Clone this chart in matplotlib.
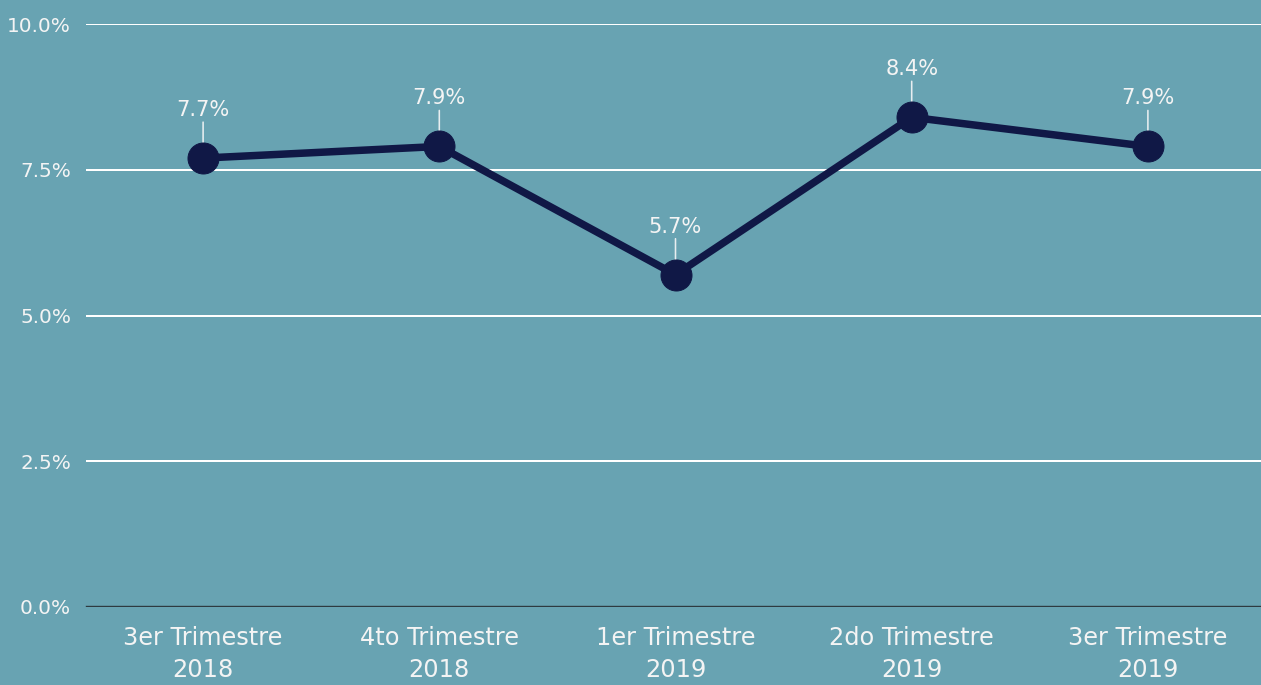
import matplotlib
matplotlib.use("Agg")
import matplotlib.pyplot as plt
from matplotlib.ticker import FuncFormatter

categories = ["3er Trimestre\n2018", "4to Trimestre\n2018", "1er Trimestre\n2019",
              "2do Trimestre\n2019", "3er Trimestre\n2019"]
values = [7.7, 7.9, 5.7, 8.4, 7.9]
y_ticks = [0.0, 2.5, 5.0, 7.5, 10.0]

BG = "#68A3B2"
LINE = "#101846"
TXT = "#F4F4F4"

DPI = 72
fig = plt.figure(figsize=(1261 / DPI, 685 / DPI), dpi=DPI, facecolor=BG)
W, H = 1261, 685
left, right = 85, 1266
top, bottom = 24, 607
ax = fig.add_axes([left / W, 1 - bottom / H, (right - left) / W, (bottom - top) / H])
ax.set_facecolor(BG)

x = list(range(len(categories)))
ax.set_xlim(-0.5, len(categories) - 0.5)
ax.set_ylim(0, 10)

for t in y_ticks[1:]:
    ax.axhline(t, color="white", lw=2, zorder=1, xmin=2 / (right - left))
ax.axhline(0, color="#2E3A40", lw=2.4, zorder=1, xmin=2 / (right - left))

ax.plot(x, values, color=LINE, lw=7.5, zorder=3, solid_capstyle="round")
ax.plot(x, values, "o", color=LINE, markersize=31, zorder=4)

for xi, v in zip(x, values):
    ax.annotate("", xy=(xi, v), xytext=(0, 36), textcoords="offset points",
                arrowprops=dict(arrowstyle="-", color="#E8EEF0", lw=1.6,
                                shrinkA=0, shrinkB=15), zorder=2)
    ax.annotate(f"{v:.1f}%", xy=(xi, v), xytext=(0, 42), textcoords="offset points",
                ha="center", va="baseline", color=TXT, fontsize=21, zorder=5)

ax.set_yticks(y_ticks)
ax.yaxis.set_major_formatter(FuncFormatter(lambda v, p: f"{v:.1f}%"))
ax.set_xticks(x)
ax.set_xticklabels(categories, linespacing=1.4)
ax.tick_params(axis="y", length=0, pad=14, labelsize=20, labelcolor=TXT)
ax.tick_params(axis="x", length=0, pad=19, labelsize=24, labelcolor=TXT)
for s in ax.spines.values():
    s.set_visible(False)

fig.savefig("out.png", dpi=DPI, facecolor=BG)
